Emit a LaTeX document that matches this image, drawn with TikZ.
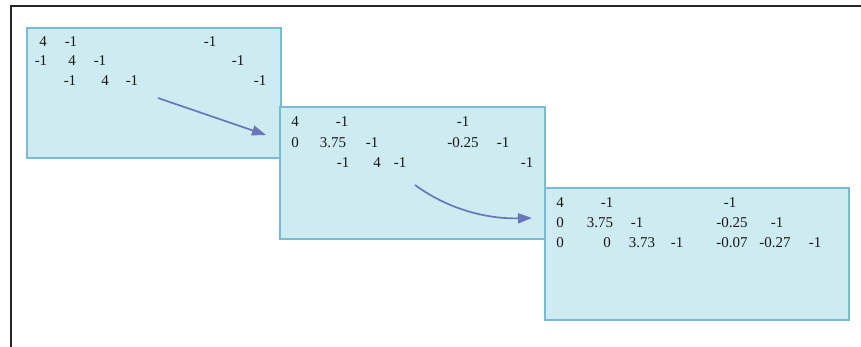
\documentclass[tikz,border=0pt]{standalone}
\usepackage{fontspec}
\setmainfont{Liberation Serif}
\usepackage{tikz}
\usetikzlibrary{arrows.meta}
\definecolor{stagefill}{RGB}{205,235,240}
\definecolor{stageedge}{RGB}{120,188,212}
\definecolor{flowblue}{RGB}{105,118,188}
\definecolor{numdark}{RGB}{25,25,25}
\tikzset{
  stagebox/.style={draw=stageedge, fill=stagefill, line width=1.5pt,
                   inner sep=0pt, outer sep=0pt, minimum width=#1},
  entry/.style={font=\fontsize{15}{17}\selectfont, text=numdark, inner sep=0pt},
  flow/.style={flowblue, line width=1.7pt, -{Triangle[length=14pt, width=10pt]}},
}

\begin{document}
\begin{tikzpicture}[x=1pt, y=-1pt]
\useasboundingbox (0,0) rectangle (861,347);

% --- outer frame ---
\draw[line width=2pt, black!85] (11,347) -- (11,6) -- (861,6);

% --- Stage 1 ---
\node[stagebox=254pt, minimum height=130pt] (stage1) at (154,93) {};
\foreach \x/\y/\v [count=\i] in {43/42/4, 71/42/-1, 210/42/-1,
    41/61/-1, 72/61/4, 100/61/-1, 238/61/-1,
    70/81/-1, 105/81/4, 132/81/-1, 260/81/-1}
  \node[entry] (s1-\i) at (\x,\y) {\v};

\coordinate (flow1-start) at (158,98);
\coordinate (flow1-end) at (266,135);
\draw[flow] (flow1-start) -- (flow1-end);

% --- Stage 2 ---
\node[stagebox=265pt, minimum height=132pt] (stage2) at (412.5,173) {};
\foreach \x/\y/\v [count=\i] in {295/122/4, 342/122/-1, 463/122/-1,
    295/143/0, 333/143/3.75, 372/143/-1, 463/143/-0.25, 503/143/-1,
    343/163/-1, 377/163/4, 400/163/-1, 527/163/-1}
  \node[entry] (s2-\i) at (\x,\y) {\v};

\coordinate (flow2-start) at (415,185);
\coordinate (flow2-end) at (532,218);
\draw[flow] (flow2-start) .. controls (452,212) and (492,219) .. (flow2-end);

% --- Stage 3 ---
\node[stagebox=304pt, minimum height=132pt] (stage3) at (697,254) {};
\foreach \x/\y/\v [count=\i] in {560/203/4, 607/203/-1, 730/203/-1,
    560/223/0, 600/223/3.75, 637/223/-1, 732/223/-0.25, 777/223/-1,
    560/243/0, 607/243/0, 642/243/3.73, 677/243/-1, 732/243/-0.07, 775/243/-0.27, 815/243/-1}
  \node[entry] (s3-\i) at (\x,\y) {\v};

\end{tikzpicture}
\end{document}
